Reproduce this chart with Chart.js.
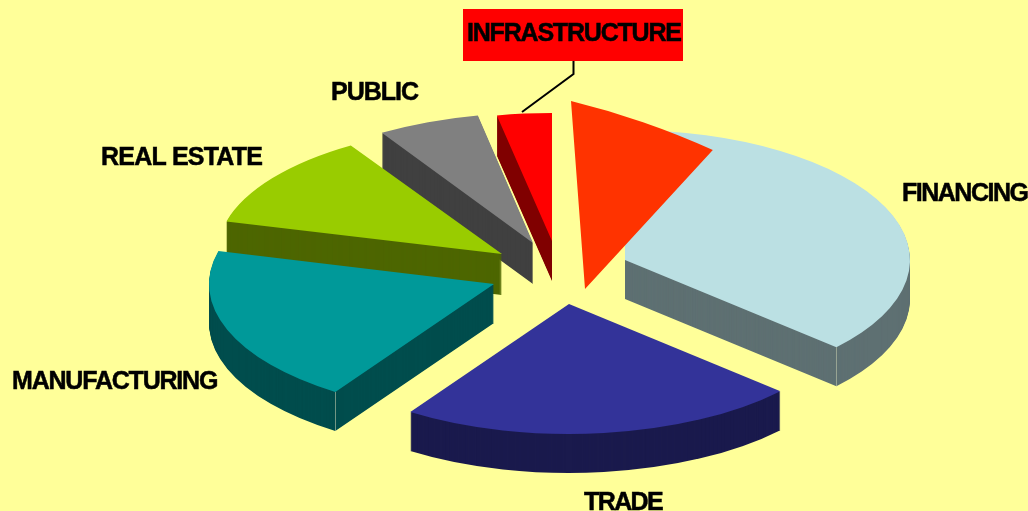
<!DOCTYPE html>
<html>
<head>
<meta charset="utf-8">
<title>Pie</title>
<script src="https://cdn.jsdelivr.net/npm/chart.js@4"></script>
<style>
    html, body { margin: 0; padding: 0; background: #FFFF99; overflow: hidden; }
    canvas { display: block; }
</style>
</head>
<body>
<canvas id="pieChart" width="1028" height="511"></canvas>
<script>
// Shares (percent of the pie)
const categories = ['FINANCING', 'TRADE', 'MANUFACTURING', 'REAL ESTATE', 'PUBLIC', 'INFRASTRUCTURE'];
const shares = [36.7, 22.7, 19.7, 12.0, 5.8, 3.1];

// The orange wedge has no label and sits on top of the financing slice
const overlayShare = [6.3, 93.7];

const topColors = ['#BBE0E3', '#333399', '#009999', '#99CC00', '#808080', '#FF0000'];
const wallColors = ['#5E7072', '#1A1A4D', '#004D4D', '#4D6600', '#404040', '#800000'];
const overlayColor = '#FF3300';
const pageColor = '#FFFF99';

// How each slice lies on the page: canvas matrix for the tilt and explosion, wall depth, draw order back to front
const slicePlacement = [
    { dataset: 0, index: 4, matrix: [285, 0, 0, 130, 533, 243], depth: 41 },
    { dataset: 0, index: 5, matrix: [285, 0, 0, 128, 552, 241], depth: 40 },
    { dataset: 0, index: 0, matrix: [285, 0, 0, 130, 625, 260], depth: 39, seam: 'endAngle' },
    { dataset: 1, index: 0, matrix: [365, 89.5, 14, 188, 585, 289], depth: 0 },
    { dataset: 0, index: 3, matrix: [285, 0, 0, 128, 502, 254], depth: 41 },
    { dataset: 0, index: 2, matrix: [285, 0, 0, 130, 494, 284], depth: 39, seam: 'startAngle' },
    { dataset: 0, index: 1, matrix: [285, 0, 0, 130, 569, 304], depth: 39 }
];

// Label anchors and tracking, same order as categories
const labelSpots = [[902, 201], [584, 510], [12, 389], [101, 165], [331, 100], [467, 41]];
const labelTracking = ['-1.5px', '-1.6px', '-1.2px', '-0.8px', '-1px', '-1.2px'];
const calloutBox = { left: 463, top: 9, right: 683, bottom: 61 };
const calloutLine = [[573.5, 61], [573.5, 74], [522, 112]];

// Draw one slice with the library's arc element, in unit space of the placement matrix
function drawSlice(ctx, arc, matrix, drop, color) {
    const face = Object.create(arc);
    face.x = 0;
    face.y = 0;
    face.innerRadius = 0;
    face.outerRadius = 100;
    face.options = {
        backgroundColor: color, borderColor: color, borderWidth: 0, borderAlign: 'center',
        borderRadius: 0, offset: 0, spacing: 0, circular: true
    };
    ctx.save();
    ctx.translate(0, drop);
    ctx.transform(matrix[0] / 100, matrix[1] / 100, matrix[2] / 100, matrix[3] / 100, matrix[4], matrix[5]);
    face.draw(ctx);
    ctx.restore();
}

const tiltedPie = {
    id: 'tiltedPie',
    beforeDraw(chart) {
        chart.ctx.fillStyle = pageColor;
        chart.ctx.fillRect(0, 0, chart.width, chart.height);
    },
    beforeDatasetsDraw(chart) {
        const ctx = chart.ctx;
        slicePlacement.forEach(place => {
            const arc = chart.getDatasetMeta(place.dataset).data[place.index];
            const color = place.dataset === 0 ? topColors[place.index] : overlayColor;

            // Side walls: sweep the slice downward in the dark colour
            for (let d = place.depth; d > 0; d--) {
                drawSlice(ctx, arc, place.matrix, d, wallColors[place.index]);
            }

            // Thin light line on the corner between the flat wall and the round wall
            if (place.seam) {
                const angle = arc[place.seam];
                const x = place.matrix[4] + Math.cos(angle) * place.matrix[0];
                const y = place.matrix[5] + Math.sin(angle) * place.matrix[3];
                ctx.strokeStyle = 'rgba(190, 200, 170, 0.6)';
                ctx.lineWidth = 1;
                ctx.beginPath();
                ctx.moveTo(Math.round(x) + 0.5, y);
                ctx.lineTo(Math.round(x) + 0.5, y + place.depth);
                ctx.stroke();
            }

            drawSlice(ctx, arc, place.matrix, 0, color);
        });
        return false;
    },
    afterDraw(chart) {
        const ctx = chart.ctx;
        ctx.save();

        // Red box and leader line of the callout
        ctx.fillStyle = '#FF0000';
        ctx.fillRect(calloutBox.left, calloutBox.top, calloutBox.right - calloutBox.left, calloutBox.bottom - calloutBox.top);
        ctx.strokeStyle = '#000000';
        ctx.lineWidth = 2;
        ctx.beginPath();
        calloutLine.forEach((p, i) => i === 0 ? ctx.moveTo(p[0], p[1]) : ctx.lineTo(p[0], p[1]));
        ctx.stroke();

        // Category names, slightly stroked so they read as heavy as the original
        ctx.fillStyle = '#000000';
        ctx.lineWidth = 0.5;
        ctx.font = 'bold 25px "Liberation Sans", Arial, sans-serif';
        ctx.textBaseline = 'alphabetic';
        categories.forEach((name, i) => {
            ctx.letterSpacing = labelTracking[i];
            ctx.fillText(name, labelSpots[i][0], labelSpots[i][1]);
            ctx.strokeText(name, labelSpots[i][0], labelSpots[i][1]);
        });
        ctx.restore();
    }
};

new Chart(document.getElementById('pieChart').getContext('2d'), {
    type: 'pie',
    data: {
        labels: categories,
        datasets: [
            { data: shares, backgroundColor: topColors, borderWidth: 0 },
            { data: overlayShare, backgroundColor: [overlayColor, 'rgba(0,0,0,0)'], borderWidth: 0 }
        ]
    },
    options: {
        responsive: false,
        animation: false,
        events: [],
        plugins: {
            legend: { display: false },
            tooltip: { enabled: false }
        }
    },
    plugins: [tiltedPie]
});
</script>
</body>
</html>
